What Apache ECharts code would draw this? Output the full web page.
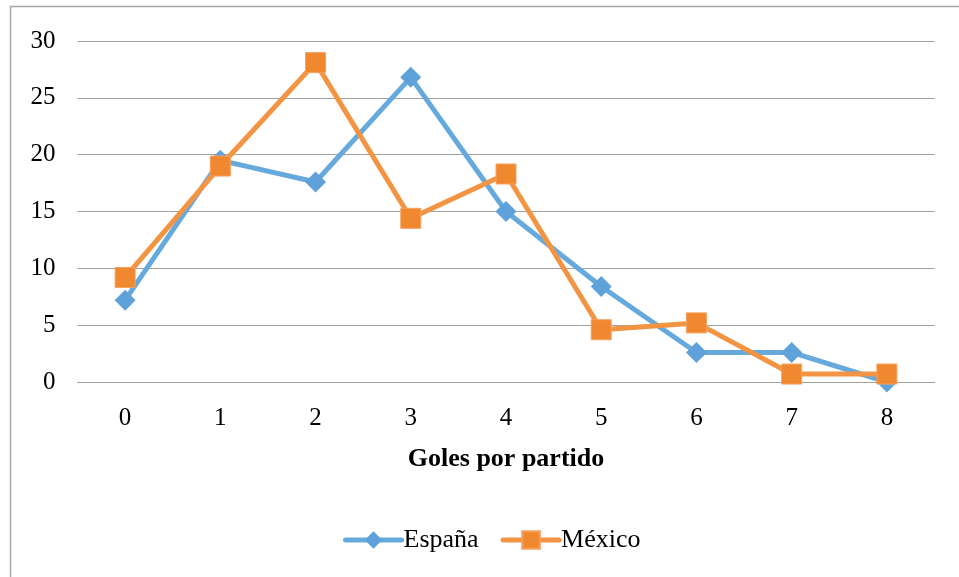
<!DOCTYPE html>
<html><head><meta charset="utf-8">
<script src="https://cdn.jsdelivr.net/npm/echarts@6/dist/echarts.min.js"></script>
<style>html,body{margin:0;padding:0;background:#fff}#c{width:959px;height:577px}</style>
</head><body><div id="c"></div>
<script>
const categories = ['0','1','2','3','4','5','6','7','8'];
const espana = [7.2, 19.5, 17.6, 26.8, 15.0, 8.4, 2.6, 2.6, 0.0];
const mexico = [9.2, 19.0, 28.1, 14.4, 18.3, 4.6, 5.2, 0.7, 0.7];
const xTitle = 'Goles por partido';
const seriesNames = ['España', 'México'];

const font = 'Liberation Serif';
const chart = echarts.init(document.getElementById('c'), null, {renderer: 'canvas'});
chart.setOption({
  animation: false,
  backgroundColor: '#fff',
  graphic: [{
    type: 'polyline', silent: true,
    shape: {points: [[10.5, 577], [10.5, 6.5], [959, 6.5]]},
    style: {stroke: '#a6a6a6', lineWidth: 1.5, fill: null}
  }],
  grid: {left: 77.5, right: 24.5, top: 41, bottom: 195, containLabel: false},
  xAxis: {
    type: 'category', data: categories, boundaryGap: true,
    axisLine: {show: true, lineStyle: {color: '#a0a0a0', width: 1}},
    axisTick: {show: false},
    axisLabel: {fontFamily: font, fontSize: 25, color: '#000', margin: 24},
    name: xTitle, nameLocation: 'middle', nameGap: 64,
    nameTextStyle: {fontFamily: font, fontSize: 26, fontWeight: 'bold', color: '#000'}
  },
  yAxis: {
    type: 'value', min: 0, max: 30, interval: 5,
    axisLine: {show: false}, axisTick: {show: false},
    splitLine: {lineStyle: {color: '#a0a0a0', width: 1}},
    axisLabel: {fontFamily: font, fontSize: 25, color: '#000', margin: 22}
  },
  legend: {
    bottom: 19, left: 338, itemGap: 22, itemWidth: 56, itemHeight: 22,
    textStyle: {fontFamily: font, fontSize: 26, color: '#000', padding: [0,0,0,-3]},
    lineStyle: {width: 5, cap: 'round'},
    data: seriesNames
  },
  series: [
    {name: seriesNames[0], type: 'line', data: espana, symbol: 'diamond', symbolSize: 21,
     lineStyle: {color: '#66a9dc', width: 5}, itemStyle: {color: '#5fa2da'}, z: 2},
    {name: seriesNames[1], type: 'line', data: mexico, symbol: 'rect', symbolSize: 20,
     lineStyle: {color: '#f39443', width: 5}, itemStyle: {color: '#f0882f', borderColor: '#f6a060', borderWidth: 1}, z: 3}
  ]
});
</script></body></html>
